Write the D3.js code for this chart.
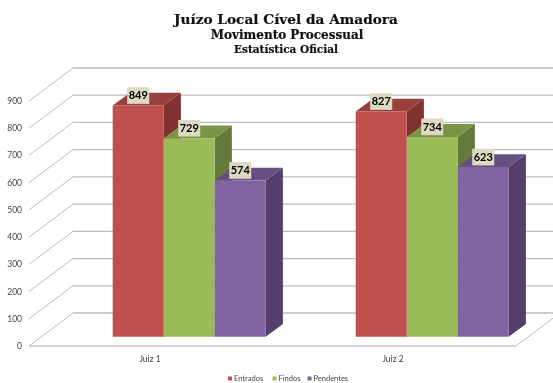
<!DOCTYPE html>
<html><head><meta charset="utf-8">
<script src="https://cdn.jsdelivr.net/npm/d3@7/dist/d3.min.js"></script>
<style>html,body{margin:0;padding:0;background:#fff}svg{display:block;filter:blur(.4px)}</style>
</head><body><svg id="c" width="553" height="383"></svg>
<script>
const titles = ["Juízo Local Cível da Amadora","Movimento Processual","Estatística Oficial"];
const categories = ["Juiz 1","Juiz 2"];
const seriesNames = ["Entrados","Findos","Pendentes"];
const entrados = [849,827];
const findos = [729,734];
const pendentes = [574,623];
const yTicks = [0,100,200,300,400,500,600,700,800,900];
const colorsFront = ["#c0504d","#9bbb59","#8064a2"];
const colorsTop = ["#98403d","#7b9547","#655081"];
const colorsSide = ["#7f3230","#647a3a","#533f69"];
const series = [entrados,findos,pendentes];

const svg = d3.select("#c");
const FONT = "Lato, 'Open Sans', sans-serif";
const y = d3.scaleLinear().domain([0,900]).range([346,101]);
const floorX0 = 29, floorX1 = 516, depthX = 44, depthY = 33;
const barOff = 9.3, barDX = 17.2, barDY = 12.8, barShift = 39.2;
const yBar = v => y(v) - barOff;
const x0 = d3.scaleBand().domain(categories).range([28.5,514.5]);
const barW = 51;
const catCentre = c => x0(c) + x0.bandwidth()/2;
const xBar = (c,i) => catCentre(c) + barShift + (i-1.5)*barW;

const grid = svg.append("g").attr("fill","none").attr("stroke","#bcbcbc").attr("stroke-width",1);
grid.selectAll(".b").data(yTicks).join("line")
  .attr("x1",floorX0+depthX).attr("x2",floorX1+depthX)
  .attr("y1",d=>y(d)-depthY).attr("y2",d=>y(d)-depthY).attr("stroke-width",1.3);
grid.selectAll(".d").data(yTicks).join("line")
  .attr("x1",floorX0).attr("x2",floorX0+depthX)
  .attr("y1",d=>y(d)).attr("y2",d=>y(d)-depthY);
grid.append("line").attr("x1",floorX0).attr("x2",floorX1).attr("y1",y(0)).attr("y2",y(0)).attr("stroke","#aaa");
grid.append("line").attr("x1",floorX1).attr("x2",floorX1+depthX).attr("y1",y(0)).attr("y2",y(0)-depthY);

svg.append("g").selectAll("text").data(yTicks).join("text")
  .attr("x",22).attr("y",d=>y(d)).attr("dy","0.35em").attr("text-anchor","end")
  .attr("font-family",FONT).attr("font-size",8.5).attr("fill","#444").text(d=>d);

const bars = svg.append("g");
const labels = [];
categories.forEach((c,ci)=>{
  series.forEach((s,i)=>{
    const v = s[ci], l = xBar(c,i), r = l+barW, t = yBar(v), b = yBar(0);
    const poly = pts => bars.append("polygon").attr("points",pts.map(p=>p.join(",")).join(" "));
    poly([[r,t],[r+barDX,t-barDY],[r+barDX,b-barDY],[r,b]]).attr("fill",colorsSide[i]);
    poly([[l,t],[l+barDX,t-barDY],[r+barDX,t-barDY],[r,t]]).attr("fill",colorsTop[i]);
    poly([[l,b],[l,t],[r,t],[r,b]]).attr("fill",colorsFront[i]);
    labels.push({v,x:l+barW/2,y:t-10});
  });
});
const lg = svg.append("g");
labels.forEach(d=>{
  lg.append("rect").attr("x",d.x-11).attr("y",d.y-8.3).attr("width",22).attr("height",16.6).attr("fill","#ddd9c3");
  lg.append("text").attr("x",d.x).attr("y",d.y).attr("dy","0.35em").attr("text-anchor","middle")
    .attr("font-family",FONT).attr("font-size",11).attr("font-weight",700).attr("fill","#000").text(d.v);
});

svg.append("g").selectAll("text").data(categories).join("text")
  .attr("x",c=>catCentre(c)).attr("y",359.5).attr("dy","0.35em").attr("text-anchor","middle")
  .attr("font-family",FONT).attr("font-size",8.5).attr("fill","#444").text(d=>d);

const tSizes=[13.7,12,10.5], tY=[19,35,49];
svg.append("g").selectAll("text").data(titles).join("text")
  .attr("x",(d,i)=>[286,287,286][i]).attr("y",(d,i)=>tY[i]).attr("dy","0.35em").attr("text-anchor","middle")
  .attr("font-family","'DejaVu Serif', serif").attr("font-weight",700)
  .attr("stroke","#111").attr("stroke-width",0.2)
  .attr("font-size",(d,i)=>tSizes[i]).attr("fill","#111").text(d=>d);

const legX=[228,272.5,307.5];
const leg = svg.append("g");
seriesNames.forEach((n,i)=>{
  leg.append("rect").attr("x",legX[i]).attr("y",376.5).attr("width",4).attr("height",4).attr("fill",colorsFront[i]);
  leg.append("text").attr("x",legX[i]+6).attr("y",378.5).attr("dy","0.35em")
    .attr("font-family",FONT).attr("font-size",7.5).attr("fill","#444").text(n);
});
</script></body></html>
